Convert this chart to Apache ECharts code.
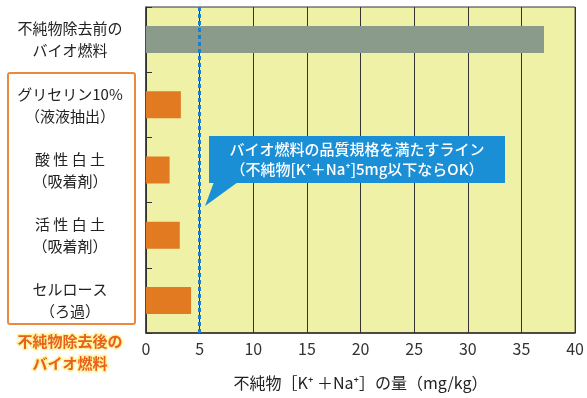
<!DOCTYPE html>
<html>
<head>
<meta charset="utf-8">
<script src="https://cdn.jsdelivr.net/npm/echarts@6/dist/echarts.min.js"></script>
<style>
  html, body { margin: 0; padding: 0; background: #fff; }
  #chart { width: 587px; height: 398px; }
</style>
</head>
<body>
<div id="chart"></div>
<script>
const categories = [
  '不純物除去前の\nバイオ燃料',
  'グリセリン10%\n（液液抽出）',
  '酸 性 白 土\n（吸着剤）',
  '活 性 白 土\n（吸着剤）',
  'セルロース\n（ろ過）'
]
const values = [37.1, 3.25, 2.2, 3.15, 4.2]
const barColors = ['#8a9a8b', '#e27a22', '#e27a22', '#e27a22', '#e27a22']
const limitValue = 5
const xTicks = [0, 5, 10, 15, 20, 25, 30, 35, 40]

const font = '"Noto Sans CJK JP", "Noto Sans", sans-serif'
const chart = echarts.init(document.getElementById('chart'))

chart.setOption({
  animation: false,
  textStyle: { fontFamily: font },
  grid: {
    left: 146, right: 10, top: 7, bottom: 65,
    show: true, backgroundColor: '#eef1a6', borderColor: '#333', borderWidth: 1
  },
  xAxis: {
    type: 'value',
    min: xTicks[0], max: xTicks[xTicks.length - 1], interval: 5,
    axisLine: { show: true, lineStyle: { color: '#333', width: 1.5 } },
    axisTick: { show: false },
    splitLine: { lineStyle: { color: '#333', width: 1 } },
    axisLabel: { fontSize: 16, color: '#333', margin: 8, fontFamily: font },
    name: '不純物［K⁺ ＋Na⁺］の量（mg/kg）',
    nameLocation: 'middle',
    nameGap: 42,
    nameTextStyle: { fontSize: 16, color: '#222', fontFamily: font }
  },
  yAxis: {
    type: 'category',
    data: categories,
    inverse: true,
    axisLine: { show: true, lineStyle: { color: '#333', width: 1.5 } },
    axisTick: { show: true, inside: true, length: 6, lineStyle: { color: '#333' } },
    axisLabel: {
      align: 'center', margin: 76, fontSize: 15, lineHeight: 22,
      color: '#222', fontFamily: font
    }
  },
  series: [{
    type: 'bar',
    barWidth: 27,
    data: values.map((v, i) => ({ value: v, itemStyle: { color: barColors[i] } })),
    markLine: {
      symbol: 'none',
      silent: true,
      label: { show: false },
      lineStyle: { color: '#1a7fd0', type: [4, 3], width: 3 },
      data: [{ xAxis: limitValue }]
    }
  }],
  graphic: [
    {
      type: 'rect', x: 8, y: 73, z: 0,
      shape: { width: 127, height: 251, r: 2 },
      style: { fill: '#fff', stroke: '#ea8a40', lineWidth: 2 }
    },
    {
      type: 'text', z: 10, x: 70, y: 330,
      style: {
        text: '不純物除去後の\nバイオ燃料', align: 'center',
        font: 'bold 15px ' + font, lineHeight: 22,
        fill: '#e8601c', stroke: '#fff3a0', lineWidth: 3
      }
    },
    {
      type: 'polygon', z: 20,
      shape: { points: [[214, 182], [238, 182], [205, 206]] },
      style: { fill: '#1b8fd6' }
    },
    {
      type: 'rect', z: 20, x: 209, y: 136,
      shape: { width: 296, height: 47 },
      style: { fill: '#1b8fd6' }
    },
    {
      type: 'text', z: 21, x: 357, y: 139,
      style: {
        text: 'バイオ燃料の品質規格を満たすライン\n（不純物[K⁺＋Na⁺]5mg以下ならOK）',
        align: 'center', font: '500 15px ' + font, lineHeight: 20, fill: '#fff'
      }
    }
  ]
})
</script>
</body>
</html>
